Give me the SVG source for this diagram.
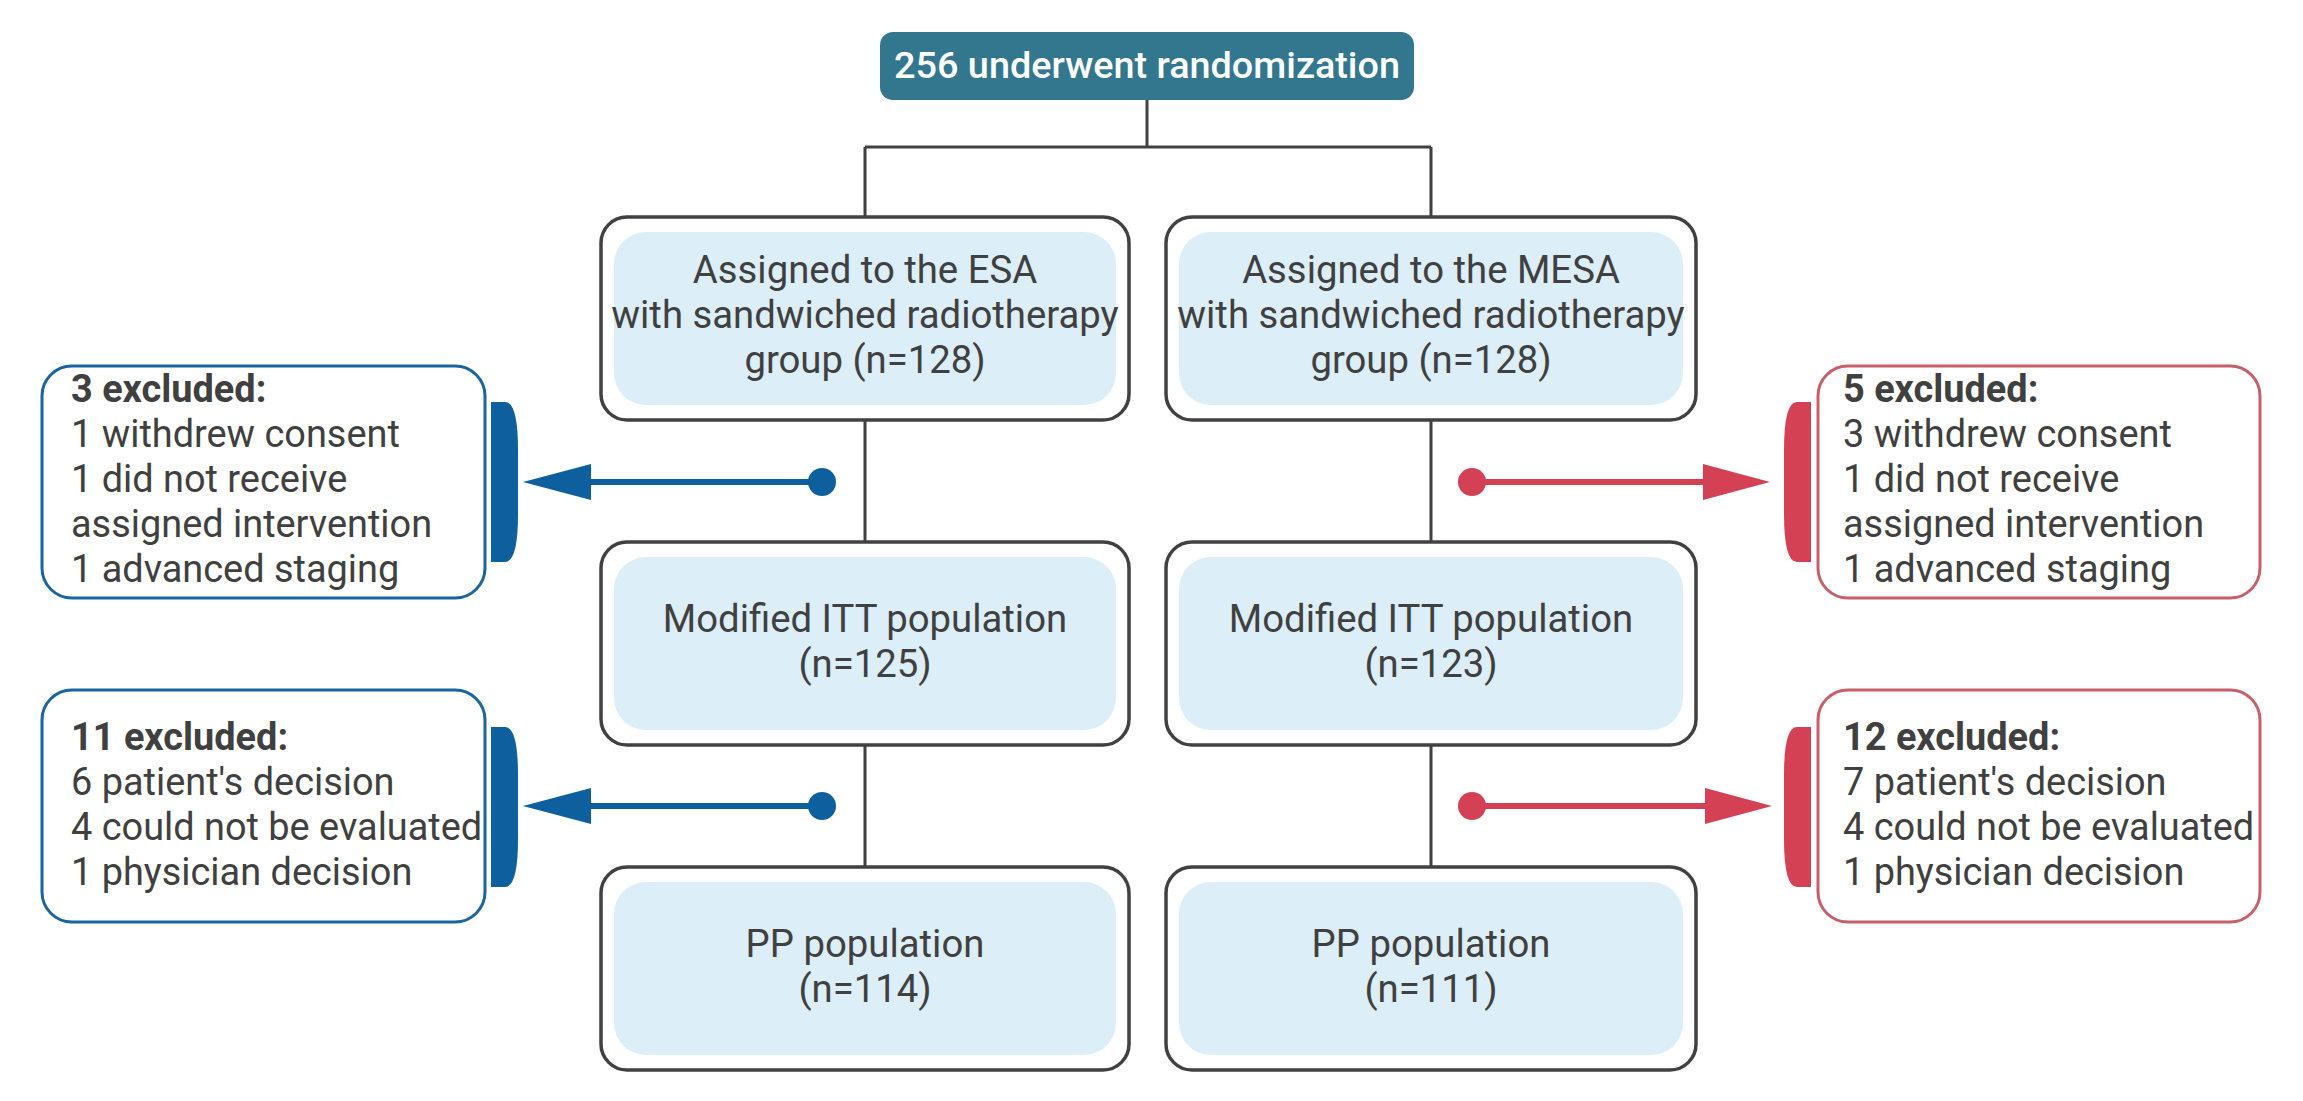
<svg xmlns="http://www.w3.org/2000/svg" width="2303" height="1101" viewBox="0 0 2303 1101">
<style>
.outer{fill:#fff;stroke:#414141;stroke-width:3.5}
.inner{fill:#dceef8}
.t{font-family:Roboto,"Liberation Sans",sans-serif;font-size:38.3px;fill:#404040;text-anchor:middle}
.x{font-family:Roboto,"Liberation Sans",sans-serif;font-size:37.9px;fill:#404040}
.b{font-weight:bold}
.ln{stroke:#414141;stroke-width:3;fill:none}
.exb{fill:#fff;stroke:#1a64a0;stroke-width:3}
.exr{fill:#fff;stroke:#c8606c;stroke-width:3}
.blue{fill:#0e5f9e}
.red{fill:#d44155}
.bl{stroke:#0e5f9e;stroke-width:6}
.rl{stroke:#d44155;stroke-width:6}
</style>
<g id="connectors">
<path class="ln" d="M1147,100 V147 M865,147 H1431 M865,147 V217 M1431,147 V217 M865,420 V542 M1431,420 V542 M865,745 V867 M1431,745 V867"/>
<line class="bl" x1="822" y1="482" x2="588" y2="482"/>
<polygon class="blue" points="523,482 591,464 591,500"/>
<circle class="blue" cx="822" cy="482" r="14"/>
<line class="bl" x1="822" y1="806" x2="588" y2="806"/>
<polygon class="blue" points="523,806 591,788 591,824"/>
<circle class="blue" cx="822" cy="806" r="14"/>
<line class="rl" x1="1472" y1="482" x2="1706" y2="482"/>
<polygon class="red" points="1770,482 1703,464 1703,500"/>
<circle class="red" cx="1472" cy="482" r="14"/>
<line class="rl" x1="1472" y1="806" x2="1706" y2="806"/>
<polygon class="red" points="1772,806 1705,788 1705,824"/>
<circle class="red" cx="1472" cy="806" r="14"/>
</g>
<g id="randomization">
<rect x="880" y="32" width="534" height="68" rx="13" fill="#33778f"/>
<text x="1147" y="78" font-family="Roboto,'Liberation Sans',sans-serif" font-size="37.8" font-weight="500" fill="#fff" text-anchor="middle">256 underwent randomization</text>
</g>
<g id="esa-assigned">
<rect class="outer" x="601" y="217" width="528" height="203" rx="26"/>
<rect class="inner" x="614" y="232" width="502" height="173" rx="32"/>
<text class="t" x="865" y="283">Assigned to the ESA</text>
<text class="t" x="865" y="328">with sandwiched radiotherapy</text>
<text class="t" x="865" y="373">group (n=128)</text>
</g>
<g id="mesa-assigned">
<rect class="outer" x="1166" y="217" width="530" height="203" rx="26"/>
<rect class="inner" x="1179" y="232" width="504" height="173" rx="32"/>
<text class="t" x="1431" y="283">Assigned to the MESA</text>
<text class="t" x="1431" y="328">with sandwiched radiotherapy</text>
<text class="t" x="1431" y="373">group (n=128)</text>
</g>
<g id="esa-mitt">
<rect class="outer" x="601" y="542" width="528" height="203" rx="26"/>
<rect class="inner" x="614" y="557" width="502" height="173" rx="32"/>
<text class="t" x="865" y="632">Modified ITT population</text>
<text class="t" x="865" y="677">(n=125)</text>
</g>
<g id="mesa-mitt">
<rect class="outer" x="1166" y="542" width="530" height="203" rx="26"/>
<rect class="inner" x="1179" y="557" width="504" height="173" rx="32"/>
<text class="t" x="1431" y="632">Modified ITT population</text>
<text class="t" x="1431" y="677">(n=123)</text>
</g>
<g id="esa-pp">
<rect class="outer" x="601" y="867" width="528" height="203" rx="26"/>
<rect class="inner" x="614" y="882" width="502" height="173" rx="32"/>
<text class="t" x="865" y="957">PP population</text>
<text class="t" x="865" y="1002">(n=114)</text>
</g>
<g id="mesa-pp">
<rect class="outer" x="1166" y="867" width="530" height="203" rx="26"/>
<rect class="inner" x="1179" y="882" width="504" height="173" rx="32"/>
<text class="t" x="1431" y="957">PP population</text>
<text class="t" x="1431" y="1002">(n=111)</text>
</g>
<g id="esa-excluded-1">
<rect class="exb" x="42" y="366" width="443" height="232" rx="30"/>
<path class="blue" d="M491,402 H505 Q518,402 518,450 V514 Q518,562 505,562 H491 Z"/>
<text class="x b" x="71" y="402">3 excluded:</text>
<text class="x" x="71" y="447">1 withdrew consent</text>
<text class="x" x="71" y="492">1 did not receive</text>
<text class="x" x="71" y="537">assigned intervention</text>
<text class="x" x="71" y="582">1 advanced staging</text>
</g>
<g id="esa-excluded-2">
<rect class="exb" x="42" y="690" width="443" height="232" rx="30"/>
<path class="blue" d="M491,727 H505 Q518,727 518,775 V839 Q518,887 505,887 H491 Z"/>
<text class="x b" x="71" y="750">11 excluded:</text>
<text class="x" x="71" y="795">6 patient's decision</text>
<text class="x" x="71" y="840">4 could not be evaluated</text>
<text class="x" x="71" y="885">1 physician decision</text>
</g>
<g id="mesa-excluded-1">
<rect class="exr" x="1818" y="366" width="442" height="232" rx="30"/>
<path class="red" d="M1811,402 H1797 Q1784,402 1784,450 V514 Q1784,562 1797,562 H1811 Z"/>
<text class="x b" x="1843" y="402">5 excluded:</text>
<text class="x" x="1843" y="447">3 withdrew consent</text>
<text class="x" x="1843" y="492">1 did not receive</text>
<text class="x" x="1843" y="537">assigned intervention</text>
<text class="x" x="1843" y="582">1 advanced staging</text>
</g>
<g id="mesa-excluded-2">
<rect class="exr" x="1818" y="690" width="442" height="232" rx="30"/>
<path class="red" d="M1811,727 H1797 Q1784,727 1784,775 V839 Q1784,887 1797,887 H1811 Z"/>
<text class="x b" x="1843" y="750">12 excluded:</text>
<text class="x" x="1843" y="795">7 patient's decision</text>
<text class="x" x="1843" y="840">4 could not be evaluated</text>
<text class="x" x="1843" y="885">1 physician decision</text>
</g>
</svg>
